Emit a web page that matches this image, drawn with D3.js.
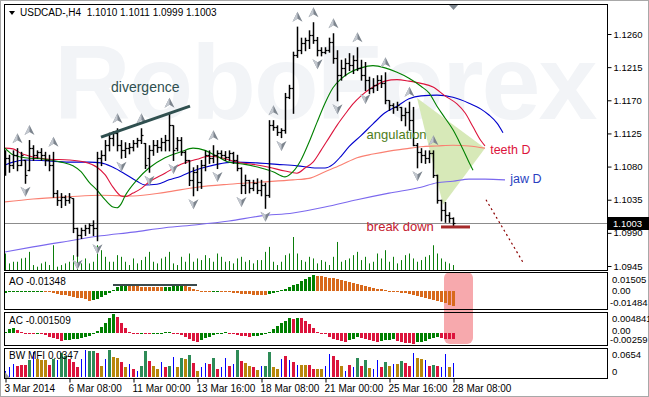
<!DOCTYPE html>
<html><head><meta charset="utf-8">
<script src="https://cdn.jsdelivr.net/npm/d3@7"></script>
<style>
html,body{margin:0;padding:0;background:#fff;}
svg{display:block;font-family:"Liberation Sans",Arial,sans-serif;}
</style></head><body>
<svg id="chart" width="649" height="397"></svg>
<script>
// ---------------- DATA ----------------
const symbolTitle = "USDCAD-,H4  1.1010 1.1011 1.0999 1.1003";
const opens = [1.1082,1.1092,1.1082,1.1096,1.1082,1.1089,1.1075,1.1105,1.1096,1.1100,1.1096,1.1089,1.1082,1.1044,1.1035,1.1039,1.1035,1.1037,1.0997,1.0987,1.0994,1.0997,1.1001,1.0997,1.1092,1.1096,1.1109,1.1119,1.1126,1.1109,1.1102,1.1105,1.1107,1.1112,1.1116,1.1112,1.1092,1.1102,1.1109,1.1107,1.1113,1.1116,1.1136,1.1105,1.1116,1.1100,1.1089,1.1062,1.1073,1.1059,1.1082,1.1096,1.1092,1.1096,1.1098,1.1096,1.1093,1.1098,1.1089,1.1078,1.1055,1.1062,1.1051,1.1058,1.1048,1.1055,1.1041,1.1136,1.1134,1.1127,1.1130,1.1174,1.1187,1.1231,1.1238,1.1248,1.1252,1.1259,1.1252,1.1238,1.1236,1.1238,1.1249,1.1227,1.1204,1.1214,1.1221,1.1218,1.1225,1.1214,1.1204,1.1198,1.1187,1.1191,1.1198,1.1193,1.1170,1.1164,1.1161,1.1161,1.1150,1.1154,1.1143,1.1109,1.1100,1.1096,1.1092,1.1098,1.1069,1.1035,1.1021,1.1014,1.1010];
const highs = [1.1102,1.1096,1.1102,1.1105,1.1100,1.1089,1.1116,1.1109,1.1102,1.1105,1.1100,1.1096,1.1100,1.1048,1.1044,1.1041,1.1044,1.1037,1.0997,1.0997,1.1001,1.1003,1.1007,1.1100,1.1102,1.1116,1.1126,1.1128,1.1132,1.1116,1.1113,1.1112,1.1116,1.1119,1.1132,1.1112,1.1109,1.1116,1.1116,1.1119,1.1123,1.1153,1.1136,1.1120,1.1120,1.1102,1.1089,1.1079,1.1082,1.1089,1.1102,1.1102,1.1109,1.1102,1.1102,1.1101,1.1102,1.1100,1.1096,1.1079,1.1069,1.1062,1.1062,1.1064,1.1062,1.1058,1.1143,1.1143,1.1136,1.1132,1.1180,1.1191,1.1236,1.1270,1.1255,1.1255,1.1265,1.1276,1.1256,1.1242,1.1242,1.1255,1.1261,1.1238,1.1225,1.1227,1.1234,1.1231,1.1242,1.1225,1.1222,1.1202,1.1200,1.1204,1.1204,1.1208,1.1170,1.1166,1.1168,1.1161,1.1160,1.1168,1.1161,1.1112,1.1105,1.1102,1.1102,1.1102,1.1069,1.1035,1.1032,1.1018,1.1011];
const lows = [1.1069,1.1073,1.1078,1.1075,1.1082,1.1058,1.1075,1.1089,1.1092,1.1089,1.1082,1.1075,1.1039,1.1028,1.1025,1.1028,1.1031,1.0991,1.0959,1.0983,1.0987,1.0990,1.0987,1.0980,1.1082,1.1089,1.1102,1.1109,1.1102,1.1092,1.1093,1.1098,1.1102,1.1107,1.1112,1.1078,1.1073,1.1096,1.1100,1.1102,1.1102,1.1102,1.1089,1.1102,1.1096,1.1085,1.1055,1.1041,1.1048,1.1051,1.1075,1.1085,1.1086,1.1078,1.1092,1.1089,1.1089,1.1085,1.1075,1.1044,1.1044,1.1045,1.1048,1.1044,1.1041,1.1024,1.1039,1.1130,1.1123,1.1120,1.1126,1.1173,1.1153,1.1229,1.1234,1.1238,1.1241,1.1248,1.1231,1.1231,1.1234,1.1236,1.1221,1.1170,1.1198,1.1204,1.1211,1.1207,1.1211,1.1198,1.1184,1.1180,1.1181,1.1184,1.1188,1.1166,1.1157,1.1153,1.1157,1.1143,1.1136,1.1130,1.1109,1.1079,1.1086,1.1085,1.1086,1.1066,1.1031,1.1007,1.1005,1.1005,1.0999];
const closes = [1.1092,1.1082,1.1096,1.1082,1.1096,1.1069,1.1105,1.1096,1.1100,1.1096,1.1089,1.1082,1.1044,1.1035,1.1039,1.1035,1.1039,1.0997,1.0987,1.0994,1.0997,1.1001,1.0997,1.1092,1.1096,1.1109,1.1119,1.1126,1.1109,1.1102,1.1105,1.1107,1.1112,1.1116,1.1123,1.1082,1.1102,1.1109,1.1107,1.1113,1.1116,1.1136,1.1102,1.1116,1.1100,1.1089,1.1062,1.1073,1.1059,1.1082,1.1096,1.1092,1.1096,1.1098,1.1096,1.1093,1.1098,1.1089,1.1078,1.1055,1.1062,1.1051,1.1058,1.1048,1.1055,1.1041,1.1136,1.1134,1.1127,1.1130,1.1174,1.1187,1.1231,1.1238,1.1248,1.1252,1.1259,1.1252,1.1238,1.1236,1.1238,1.1249,1.1227,1.1204,1.1214,1.1221,1.1218,1.1225,1.1214,1.1204,1.1198,1.1187,1.1191,1.1198,1.1193,1.1170,1.1164,1.1161,1.1164,1.1150,1.1154,1.1143,1.1109,1.1100,1.1096,1.1092,1.1098,1.1069,1.1035,1.1021,1.1014,1.1010,1.1003];
const volumes = [5000,2000,2500,2500,3500,3700,5500,1500,1000,2000,2500,1500,7500,1000,1500,2000,2500,4500,6900,2000,3500,2000,2500,7500,6000,4000,2500,2500,4500,4000,2500,1500,3500,2000,3000,4000,5500,2500,2000,3500,4000,5500,2000,1500,4000,2500,5000,2500,3500,3000,4500,3600,2500,5000,4000,2500,2700,2000,3500,4000,2500,3000,2000,3000,3000,5500,7000,2500,1500,2500,4500,5000,10000,5000,3000,2500,4000,3500,2000,3000,2500,1500,4000,8500,2500,3000,3500,4500,5500,3000,4000,2000,2500,5000,3500,6000,2500,4000,2000,3000,4500,5000,3500,2500,3000,4000,4500,7500,5000,3500,2500,2000,1500];
const aoValues = [-0.0018,-0.0016,-0.0015,-0.0014,-0.0012,-0.0011,-0.0010,-0.0009,-0.0008,-0.0007,-0.0010,-0.0015,-0.0022,-0.0028,-0.0034,-0.0040,-0.0046,-0.0052,-0.0060,-0.0066,-0.0075,-0.0085,-0.0080,-0.0068,-0.0055,-0.0040,-0.0022,0.0005,0.0035,0.0040,0.0042,0.0040,0.0038,0.0036,0.0035,0.0033,0.0032,0.0031,0.0030,0.0029,0.0031,0.0035,0.0038,0.0040,0.0041,0.0036,0.0028,0.0018,0.0008,-0.0002,-0.0006,-0.0009,-0.0008,-0.0007,-0.0009,-0.0012,-0.0015,-0.0018,-0.0022,-0.0026,-0.0030,-0.0033,-0.0035,-0.0036,-0.0037,-0.0038,-0.0030,-0.0020,-0.0010,0.0002,0.0015,0.0030,0.0045,0.0060,0.0080,0.0100,0.0115,0.0130,0.0128,0.0122,0.0117,0.0112,0.0105,0.0098,0.0090,0.0082,0.0074,0.0067,0.0058,0.0050,0.0042,0.0033,0.0025,0.0017,0.0010,0.0004,-0.0001,-0.0006,-0.0012,-0.0018,-0.0024,-0.0030,-0.0037,-0.0044,-0.0052,-0.0060,-0.0068,-0.0076,-0.0085,-0.0095,-0.0107,-0.0120,-0.01348];
const acValues = [0.0003,0.0009,0.0013,0.0008,0.0003,-0.0001,-0.0002,-0.0003,-0.0002,-0.0003,-0.0004,-0.0008,-0.0012,-0.0015,-0.0018,-0.0017,-0.0016,-0.0015,-0.0013,-0.0011,-0.0009,-0.0007,-0.0002,0.0006,0.0014,0.0024,0.0036,0.0046,0.0038,0.0025,0.0012,0.0002,-0.0001,-0.0002,-0.0001,-0.0002,-0.0003,-0.0002,-0.0001,0.0001,0.0002,0.0003,0.0001,-0.0001,-0.0004,-0.0009,-0.0014,-0.0018,-0.0022,-0.0017,-0.0012,-0.0008,-0.0004,-0.0002,0.0001,0.0002,-0.0001,-0.0003,-0.0005,-0.0006,-0.0007,-0.0008,-0.0007,-0.0006,-0.0005,-0.0003,0.0003,0.0010,0.0017,0.0024,0.0030,0.0036,0.0035,0.0037,0.0036,0.0030,0.0022,0.0012,0.0003,-0.0001,-0.0003,-0.0008,-0.0013,-0.0017,-0.0019,-0.0020,-0.0017,-0.0013,-0.0010,-0.0011,-0.0014,-0.0017,-0.0019,-0.0020,-0.0018,-0.0017,-0.0016,-0.0015,-0.0018,-0.0021,-0.0023,-0.0024,-0.0025,-0.0022,-0.0020,-0.0018,-0.0014,-0.0012,-0.0010,-0.0012,-0.0013,-0.0014,-0.001509];
const mfiValues = [0.0150,0.0234,0.0319,0.0277,0.0280,0.0294,0.0402,0.0596,0.0445,0.0420,0.0402,0.0302,0.0428,0.0420,0.0578,0.0500,0.0445,0.0360,0.0252,0.0445,0.0654,0.0620,0.0629,0.0586,0.0277,0.0445,0.0654,0.0486,0.0450,0.0360,0.0234,0.0319,0.0194,0.0151,0.0277,0.0629,0.0377,0.0259,0.0200,0.0360,0.0234,0.0277,0.0486,0.0234,0.0460,0.0445,0.0528,0.0344,0.0143,0.0234,0.0344,0.0319,0.0460,0.0194,0.0234,0.0460,0.0259,0.0319,0.0654,0.0385,0.0344,0.0259,0.0234,0.0176,0.0259,0.0277,0.0596,0.0234,0.0194,0.0445,0.0511,0.0402,0.0360,0.0294,0.0300,0.0294,0.0294,0.0194,0.0200,0.0194,0.0277,0.0548,0.0511,0.0402,0.0277,0.0150,0.0302,0.0234,0.0460,0.0277,0.0420,0.0209,0.0194,0.0402,0.0234,0.0360,0.0259,0.0319,0.0319,0.0377,0.0335,0.0277,0.0570,0.0460,0.0445,0.0420,0.0277,0.0302,0.0277,0.0252,0.0548,0.0252,0.0347];
// g = green, f = fade, b = fake, s = squat
const mfiTypes = "b b b s s s g b f f f s g b g g s s s b b g g s f b g f f s f b s b g g s f f b s g b f g f g s f b b s g s b b s b g s f f s f b g g f f b s b s b f f s s f f b b s s f b s b g s g f b b s g f b f g s s b f f b s g s b b f b".split(" ");
// Alligator-type lines and moving averages: [bar index, price]
const lipsLine = [[0,1.1105],[2,1.1096],[5,1.1092],[10,1.1090],[14,1.1086],[17,1.1081],[19,1.1073],[21,1.1059],[23,1.1048],[25,1.1035],[27,1.1025],[28,1.1024],[29,1.1029],[30,1.1040],[33,1.1062],[36,1.1078],[40,1.1092],[44,1.1100],[47,1.1105],[50,1.1102],[53,1.1094],[56,1.1086],[60,1.1083],[64,1.1078],[67,1.1073],[70,1.1066],[72,1.1073],[74,1.1089],[76,1.1113],[78,1.1140],[80,1.1166],[82,1.1187],[84,1.1199],[86,1.1207],[89,1.1214],[92,1.1217],[95,1.1214],[98,1.1208],[101,1.1200],[104,1.1189],[106,1.1180],[108,1.1162],[110,1.1146],[112,1.1130],[114,1.1109],[116,1.1086],[117,1.1075]];
const teethLine = [[0,1.1105],[2,1.1104],[4,1.1098],[7,1.1093],[11,1.1090],[16,1.1089],[20,1.1086],[23,1.1079],[25,1.1069],[27,1.1052],[29,1.1040],[30,1.1039],[32,1.1044],[34,1.1050],[36,1.1059],[40,1.1071],[44,1.1083],[48,1.1090],[51,1.1094],[54,1.1092],[58,1.1086],[62,1.1083],[66,1.1079],[70,1.1074],[73,1.1071],[75,1.1078],[77,1.1086],[79,1.1102],[81,1.1119],[83,1.1136],[85,1.1151],[87,1.1165],[89,1.1176],[92,1.1188],[95,1.1196],[98,1.1198],[101,1.1196],[104,1.1193],[107,1.1188],[110,1.1176],[113,1.1165],[115,1.1153],[117,1.1134],[119,1.1115],[120,1.1108]];
const jawLine = [[0,1.1082],[2,1.1086],[5,1.1089],[10,1.1088],[16,1.1086],[21,1.1086],[24,1.1085],[27,1.1079],[30,1.1070],[33,1.1060],[35,1.1055],[38,1.1056],[41,1.1062],[44,1.1067],[47,1.1074],[50,1.1079],[53,1.1083],[57,1.1086],[63,1.1085],[68,1.1083],[73,1.1081],[78,1.1078],[80,1.1078],[82,1.1083],[84,1.1094],[86,1.1107],[89,1.1122],[92,1.1138],[95,1.1153],[98,1.1162],[101,1.1172],[104,1.1176],[108,1.1177],[112,1.1174],[116,1.1166],[119,1.1158],[121,1.1150],[123,1.1139],[124.5,1.1126]];
const maSlowLine = [[0,1.1032],[7,1.1036],[16,1.1039],[24,1.1041],[32,1.1040],[40,1.1045],[48,1.1052],[56,1.1056],[64,1.1059],[72,1.1062],[76,1.1064],[80,1.1073],[84,1.1082],[88,1.1092],[92,1.1097],[96,1.1101],[100,1.1104],[104,1.1107],[108,1.1108],[112,1.1109],[116,1.1108],[120,1.1105]];
const maLongLine = [[0,1.0964],[7,1.0971],[16,1.0979],[24,1.0986],[32,1.0991],[40,1.0997],[48,1.1001],[56,1.1006],[64,1.1013],[72,1.1017],[80,1.1025],[88,1.1035],[96,1.1044],[104,1.1052],[108,1.1058],[112,1.1060],[116,1.1063],[120,1.1063],[125,1.1062]];
const upFractals = [3,6,12,28,34,41,52,67,73,77,82,88,95,101,107];
const downFractals = [5,18,23,29,36,42,47,53,59,65,69,78,83,90,103];
const priceTicks = [1.1260,1.1215,1.1170,1.1125,1.1080,1.1035,1.0990,1.0945];
const lastPrice = 1.1003;
const dateTickIndex = [0,16,32,48,64,80,96,112];
const dateTickLabels = ["3 Mar 2014","6 Mar 08:00","11 Mar 00:00","13 Mar 16:00","18 Mar 08:00","21 Mar 00:00","25 Mar 16:00","28 Mar 08:00"];
const aoRange = [-0.01484, 0.01505];
const acRange = [-0.00259, 0.004841];
const mfiRange = [0, 0.0654];
const aoLabels = ["0.01505","0.00","-0.01484"];
const acLabels = ["0.004841","0.00","-0.00259"];
const mfiLabels = ["0.0654","0"];
// annotations: [bar index, price]
const divergenceLine = [[24,1.1120],[46.25,1.1162]];
const aoDivergenceLine = [[27,0.0048],[48,0.0048]];
const angulationTriangle = [[103,1.1173],[120,1.1105],[109.5,1.1028]];
const breakDownLine = [[109,1.0998],[116.25,1.0998]];
const projectionLine = [[120.25,1.1035],[129.5,1.0950]];
const notes = [
  {text:"divergence", at:[26.5,1.1181], color:"#2f4f4f", size:14},
  {text:"angulation", at:[90.4,1.1117], color:"#4e7d1a", size:13},
  {text:"teeth D", at:[121.3,1.1097], color:"#dc143c", size:12.5},
  {text:"jaw D", at:[126.3,1.1058], color:"#2a3fbf", size:12.5},
  {text:"break down", at:[90.4,1.0992], color:"#c4202f", size:13}
];

// ---------------- LAYOUT ----------------
const FS = 9.5;
const svg = d3.select("#chart");
const L = 4, R = 607;
const mainTop = 4, mainBot = 270;
const ao = {top:272, bot:309}, ac = {top:312, bot:345}, mfi = {top:348, bot:378};
const nBars = highs.length;

const x = d3.scaleLinear().domain([0, nBars-1]).range([5, 453]);
const y = d3.scaleLinear().domain([1.0945, 1.1260]).range([266, 34]);
const vy = d3.scaleLinear().domain([0, 10000]).range([270, 237]);
const aoY = d3.scaleLinear().domain(aoRange).range([308, 273]);
const acY = d3.scaleLinear().domain(acRange).range([344, 313]);
const mfiY = d3.scaleLinear().domain(mfiRange).range([377, 350]);

svg.append("rect").attr("width",649).attr("height",397).attr("fill","#fff");
svg.append("rect").attr("x",0.5).attr("y",0.5).attr("width",648).attr("height",396)
  .attr("fill","none").attr("stroke","#a8a8a8");

const defs = svg.append("defs");
defs.append("clipPath").attr("id","clipMain").append("rect")
  .attr("x",L+1).attr("y",mainTop+1).attr("width",R-L-1).attr("height",mainBot-mainTop-1);

// watermark
const main = svg.append("g").attr("clip-path","url(#clipMain)");
main.append("text").attr("x",54).attr("y",119).attr("font-size",106).attr("font-weight","bold")
  .attr("fill","#f2f4f7").attr("letter-spacing",-2).text("RoboForex");

// pink highlight over AO/AC (background object)
svg.append("rect").attr("x",x(109.75)).attr("y",ao.top).attr("width",x(117)-x(109.75))
  .attr("height",ac.bot-1-ao.top).attr("rx",6).attr("fill","#f7a9ad");

// angulation triangle
main.append("path")
  .attr("d", d3.line().x(d=>x(d[0])).y(d=>y(d[1]))(angulationTriangle)+"Z")
  .attr("fill","#d7e9b8");

// bid line
main.append("line").attr("x1",L).attr("x2",R).attr("y1",Math.round(y(lastPrice))+0.5).attr("y2",Math.round(y(lastPrice))+0.5)
  .attr("stroke","#8c8c8c").attr("stroke-width",1);

// volumes
main.append("g").selectAll("rect").data(volumes).join("rect")
  .attr("x",(d,i)=>x(i)).attr("width",1)
  .attr("y",d=>vy(d)).attr("height",d=>vy(0)-vy(d))
  .attr("fill","#0b7d0b");

// moving lines
const ln = d3.line().x(d=>x(d[0])).y(d=>y(d[1])).curve(d3.curveMonotoneX);
[[maLongLine,"#7b68ee"],[maSlowLine,"#fa8072"],[jawLine,"#0000cd"],[teethLine,"#dc143c"],[lipsLine,"#008000"]]
  .forEach(([pts,col])=>{
    main.append("path").attr("d",ln(pts)).attr("fill","none").attr("stroke",col).attr("stroke-width",1.1);
  });

// OHLC bars
const bars = d3.range(nBars).map(i=>({i,o:opens[i],h:highs[i],l:lows[i],c:closes[i]}));
const gb = main.append("g").attr("stroke","#000");
gb.selectAll("line.v").data(bars).join("line").attr("class","v")
  .attr("x1",d=>x(d.i)+0.5).attr("x2",d=>x(d.i)+0.5)
  .attr("y1",d=>y(d.h)).attr("y2",d=>y(d.l)+1).attr("stroke-width",1.5);
gb.selectAll("line.o").data(bars).join("line").attr("class","o")
  .attr("x1",d=>x(d.i)-1.5).attr("x2",d=>x(d.i)+0.5)
  .attr("y1",d=>Math.round(y(d.o))+0.5).attr("y2",d=>Math.round(y(d.o))+0.5).attr("stroke-width",1.2);
gb.selectAll("line.c").data(bars).join("line").attr("class","c")
  .attr("x1",d=>x(d.i)+0.5).attr("x2",d=>x(d.i)+2.5)
  .attr("y1",d=>Math.round(y(d.c))+0.5).attr("y2",d=>Math.round(y(d.c))+0.5).attr("stroke-width",1.2);

// fractal arrows
function arrow(g, cx, cy, up){
  const s = up ? 1 : -1;
  g.append("path").attr("d",`M${cx},${cy-5*s} L${cx+5},${cy+5*s} L${cx},${cy+2*s} L${cx-5},${cy+5*s} Z`)
    .attr("fill","#7d858e");
  g.append("path").attr("d",`M${cx},${cy-5*s} L${cx},${cy+2*s} L${cx-5},${cy+5*s} Z`)
    .attr("fill","#c3c8cf");
}
const gf = main.append("g");
upFractals.forEach(i=>arrow(gf, x(i)+0.5, y(highs[i])-10, true));
downFractals.forEach(i=>arrow(gf, x(i)+0.5, y(lows[i])+9, false));

// annotations
const lnA = d3.line().x(d=>x(d[0])).y(d=>y(d[1]));
main.append("path").attr("d",lnA(divergenceLine)).attr("stroke","#2f4f4f").attr("stroke-width",3).attr("fill","none");
main.append("path").attr("d",lnA(breakDownLine)).attr("stroke","#a52a2a").attr("stroke-width",3).attr("fill","none");
main.append("path").attr("d",lnA(projectionLine)).attr("stroke","#8b0000").attr("stroke-width",1.2)
  .attr("stroke-dasharray","2,3").attr("fill","none");
notes.forEach(n=>{
  main.append("text").attr("x",x(n.at[0])).attr("y",y(n.at[1])).attr("font-size",n.size)
    .attr("fill",n.color).text(n.text);
});

// main chart title
svg.append("path").attr("d","M9,11 L15,11 L12,15 Z").attr("fill","#000");
svg.append("text").attr("x",20).attr("y",16).attr("font-size",FS+0.5).attr("fill","#000")
  .style("white-space","pre").text(symbolTitle);

// chart shift marker
svg.append("path").attr("d",`M${x(112)-4},${mainTop+1} L${x(112)+5},${mainTop+1} L${x(112)+0.5},${mainTop+6} Z`).attr("fill","#7f8891");

// ---------- AO ----------
const gAO = svg.append("g").attr("shape-rendering","crispEdges");
gAO.selectAll("rect").data(aoValues).join("rect")
  .attr("x",(d,i)=>x(i)-1).attr("width",3)
  .attr("y",d=>Math.min(aoY(d),aoY(0))).attr("height",d=>Math.max(1,Math.abs(aoY(d)-aoY(0))))
  .attr("fill",(d,i)=> (i===0 || d>=aoValues[i-1]) ? "#008000" : "#d8691c");
const lnAO = d3.line().x(d=>x(d[0])).y(d=>aoY(d[1]));
svg.append("path").attr("d",lnAO(aoDivergenceLine)).attr("stroke","#3a4a4c").attr("stroke-width",2).attr("fill","none");

// ---------- AC ----------
const gAC = svg.append("g").attr("shape-rendering","crispEdges");
gAC.selectAll("rect").data(acValues).join("rect")
  .attr("x",(d,i)=>x(i)-1).attr("width",3)
  .attr("y",d=>Math.min(acY(d),acY(0))).attr("height",d=>Math.max(1,Math.abs(acY(d)-acY(0))))
  .attr("fill",(d,i)=> (i===0 || d>=acValues[i-1]) ? "#008000" : "#dc143c");

// ---------- MFI ----------
const mfiColor = {g:"#2e8b57", f:"#b8860b", b:"#0000ff", s:"#dc143c"};
const gM = svg.append("g").attr("shape-rendering","crispEdges");
gM.selectAll("rect").data(mfiValues).join("rect")
  .attr("x",(d,i)=> mfiTypes[i]==="b" ? x(i) : x(i)-1)
  .attr("width",(d,i)=> mfiTypes[i]==="b" ? 1 : 3)
  .attr("y",d=>mfiY(d)).attr("height",d=>mfiY(0)-mfiY(d))
  .attr("fill",(d,i)=>mfiColor[mfiTypes[i]]);
svg.append("path").attr("d",`M${L+1},${mfi.bot} L${L+1},${mfi.bot-6} L${L+6},${mfi.bot} Z`).attr("fill","#9a9a9a");

// ---------- FRAMES ----------
[[mainTop,mainBot],[ao.top,ao.bot],[ac.top,ac.bot],[mfi.top,mfi.bot]].forEach(([t,b])=>{
  svg.append("rect").attr("x",L+0.5).attr("y",t+0.5).attr("width",R-L).attr("height",b-t)
    .attr("fill","none").attr("stroke","#000").attr("stroke-width",1);
});

// ---------- PRICE AXIS ----------
const pa = svg.append("g").attr("transform",`translate(${R+0.5},0)`)
  .call(d3.axisRight(y).tickValues(priceTicks).tickFormat(d3.format(".4f")).tickSize(4).tickPadding(2));
pa.select(".domain").remove();
pa.selectAll("text").attr("font-size",FS).attr("font-family",'"Liberation Sans",Arial,sans-serif').attr("fill","#000");
pa.selectAll("line").attr("stroke","#000");
const yl = Math.round(y(lastPrice));
svg.append("rect").attr("x",R+1).attr("y",yl-6).attr("width",41).attr("height",13).attr("fill","#000");
svg.append("text").attr("x",R+6).attr("y",yl+4).attr("font-size",FS).attr("fill","#fff").text(d3.format(".4f")(lastPrice));

// ---------- SUBPANEL LABELS ----------
function sideLabels(labels, ys){
  labels.forEach((t,k)=>{
    svg.append("text").attr("x",t.startsWith("-")?R+3:R+5).attr("y",ys[k]).attr("font-size",FS).attr("fill","#000").text(t);
  });
}
sideLabels(aoLabels,[aoY(aoRange[1])+10, aoY(0)+3.5, aoY(aoRange[0])-2]);
sideLabels(acLabels,[acY(acRange[1])+9, acY(0)+1, acY(acRange[0])-1.5]);
sideLabels(mfiLabels,[mfiY(mfiRange[1])+8, mfiY(0)-2.5]);

svg.append("text").attr("x",9).attr("y",ao.top+13).attr("font-size",FS+0.5).text("AO " + aoValues[nBars-1].toFixed(5));
svg.append("text").attr("x",9).attr("y",ac.top+12).attr("font-size",FS+0.5).text("AC " + acValues[nBars-1].toFixed(6));
svg.append("text").attr("x",9).attr("y",mfi.top+11).attr("font-size",FS+0.5).text("BW MFI " + mfiValues[nBars-1].toFixed(4));

// ---------- DATE AXIS ----------
const da = svg.append("g").attr("transform",`translate(0.5,${mfi.bot+0.5})`)
  .call(d3.axisBottom(x).tickValues(dateTickIndex).tickFormat((d,k)=>dateTickLabels[k]).tickSize(4).tickPadding(2));
da.select(".domain").remove();
da.selectAll("line").attr("stroke","#000");
da.selectAll("text").attr("text-anchor","start").attr("dx",-1.5).attr("font-size",FS+0.5)
  .attr("font-family",'"Liberation Sans",Arial,sans-serif').attr("fill","#000");
</script>
</body></html>
